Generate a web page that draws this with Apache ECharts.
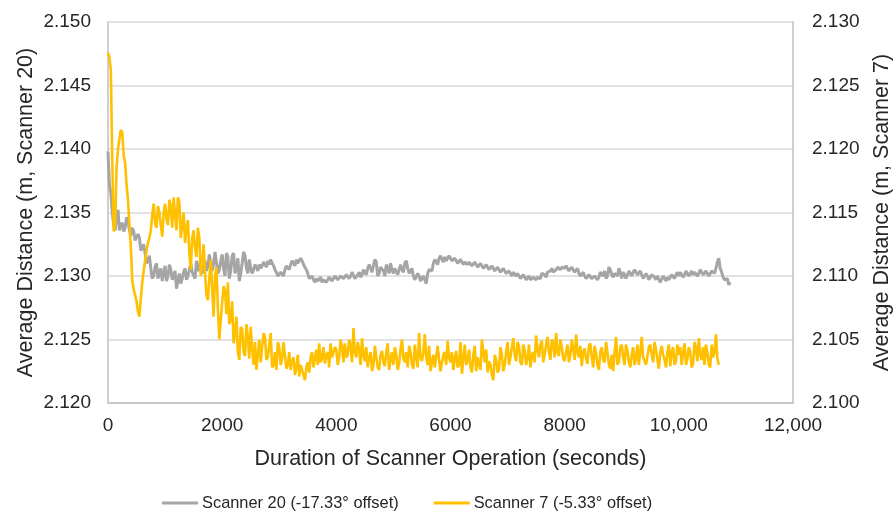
<!DOCTYPE html>
<html>
<head>
<meta charset="utf-8">
<script src="https://cdn.jsdelivr.net/npm/echarts@6/dist/echarts.min.js"></script>
<style>
html,body{margin:0;padding:0;background:#fff;overflow:hidden;}
#chart{width:893px;height:524px;}
</style>
</head>
<body>
<div id="chart"></div>
<script>
// Sampling grid of the readings (seconds): main readings at 0, 50, 100 ...,
// intermediate readings at 25, 75, 125 ...
const sampleStart = 0;
const sampleStep = 50;
const midOffset = 25;

// Scanner 20 (left axis), readings at 0, 50, ... 10,900 s
const scanner20 = [
  2.1398, 2.1365, 2.1340, 2.1348, 2.1336, 2.1342, 2.1338, 2.1344, 2.1332, 2.1335,
  2.1327, 2.1330, 2.1322, 2.1318, 2.1312, 2.1306, 2.1300, 2.1310, 2.1302, 2.1296,
  2.1308, 2.1300, 2.1305, 2.1298, 2.1290, 2.1302, 2.1298, 2.1306, 2.1300, 2.1310,
  2.1304, 2.1312, 2.1306, 2.1302, 2.1312, 2.1308, 2.1316, 2.1310, 2.1318, 2.1305,
  2.1317, 2.1300, 2.1315, 2.1304, 2.1318, 2.1306, 2.1296, 2.1310, 2.1316, 2.1302,
  2.1306, 2.1305, 2.1307, 2.1309, 2.1308, 2.1310, 2.1312, 2.1313, 2.1308, 2.1303,
  2.1299, 2.1302, 2.1305, 2.1307, 2.1309, 2.1311, 2.1313, 2.1311, 2.1312, 2.1308,
  2.1302, 2.1299, 2.1297, 2.1298, 2.1296, 2.1295, 2.1298, 2.1296, 2.1299, 2.1297,
  2.1300, 2.1298, 2.1301, 2.1299, 2.1302, 2.1300, 2.1302, 2.1299, 2.1303, 2.1301,
  2.1304, 2.1306, 2.1310, 2.1304, 2.1311, 2.1302, 2.1308, 2.1300, 2.1306, 2.1310,
  2.1302, 2.1307, 2.1300, 2.1305, 2.1310, 2.1306, 2.1303, 2.1300, 2.1298, 2.1300,
  2.1295, 2.1297, 2.1302, 2.1306, 2.1310, 2.1312, 2.1314, 2.1313, 2.1315, 2.1312,
  2.1314, 2.1311, 2.1313, 2.1310, 2.1312, 2.1311, 2.1309, 2.1310, 2.1308, 2.1310,
  2.1307, 2.1309, 2.1307, 2.1308, 2.1306, 2.1307, 2.1305, 2.1306, 2.1304, 2.1305,
  2.1303, 2.1302, 2.1303, 2.1300, 2.1301, 2.1299, 2.1300, 2.1298, 2.1297, 2.1299,
  2.1297, 2.1300, 2.1302, 2.1301, 2.1303, 2.1304, 2.1303, 2.1305, 2.1306, 2.1307,
  2.1306, 2.1307, 2.1305, 2.1306, 2.1304, 2.1302, 2.1301, 2.1300, 2.1299, 2.1300,
  2.1298, 2.1301, 2.1299, 2.1302, 2.1304, 2.1300, 2.1305, 2.1299, 2.1303, 2.1306,
  2.1298, 2.1301, 2.1299, 2.1302, 2.1303, 2.1304, 2.1302, 2.1301, 2.1299, 2.1300,
  2.1298, 2.1300, 2.1297, 2.1299, 2.1296, 2.1298, 2.1299, 2.1297, 2.1300, 2.1301,
  2.1300, 2.1302, 2.1301, 2.1303, 2.1302, 2.1301, 2.1303, 2.1302, 2.1304, 2.1302,
  2.1303, 2.1301, 2.1303, 2.1306, 2.1314, 2.1303, 2.1297, 2.1298, 2.1295
];

// Scanner 20 (left axis), readings at 25, 75, ... 10,875 s
const scanner20Mid = [
  2.1372, 2.1350, 2.1336, 2.1352, 2.1340, 2.1335, 2.1346, 2.1336, 2.1338, 2.1328,
  2.1333, 2.1320, 2.1325, 2.1310, 2.1316, 2.1298, 2.1307, 2.1298, 2.1306, 2.1302,
  2.1296, 2.1309, 2.1297, 2.1304, 2.1296, 2.1294, 2.1303, 2.1297, 2.1305, 2.1303,
  2.1298, 2.1304, 2.1314, 2.1306, 2.1304, 2.1317, 2.1304, 2.1319, 2.1302, 2.1312,
  2.1306, 2.1318, 2.1298, 2.1316, 2.1302, 2.1314, 2.1302, 2.1319, 2.1306, 2.1313,
  2.1302, 2.1309, 2.1304, 2.1306, 2.1311, 2.1307, 2.1309, 2.1310, 2.1305, 2.1300,
  2.1303, 2.1300, 2.1308, 2.1305, 2.1312, 2.1308, 2.1310, 2.1314, 2.1309, 2.1305,
  2.1298, 2.1300, 2.1295, 2.1296, 2.1299, 2.1297, 2.1295, 2.1299, 2.1296, 2.1300,
  2.1297, 2.1300, 2.1298, 2.1301, 2.1298, 2.1303, 2.1298, 2.1301, 2.1299, 2.1305,
  2.1301, 2.1309, 2.1303, 2.1313, 2.1300, 2.1307, 2.1304, 2.1309, 2.1302, 2.1305,
  2.1306, 2.1301, 2.1309, 2.1303, 2.1312, 2.1302, 2.1306, 2.1297, 2.1302, 2.1296,
  2.1300, 2.1294, 2.1305, 2.1304, 2.1313, 2.1309, 2.1316, 2.1311, 2.1312, 2.1316,
  2.1312, 2.1314, 2.1310, 2.1313, 2.1309, 2.1312, 2.1311, 2.1308, 2.1311, 2.1307,
  2.1310, 2.1306, 2.1309, 2.1305, 2.1308, 2.1304, 2.1307, 2.1303, 2.1306, 2.1302,
  2.1304, 2.1300, 2.1302, 2.1302, 2.1298, 2.1301, 2.1297, 2.1300, 2.1296, 2.1298,
  2.1299, 2.1298, 2.1303, 2.1299, 2.1302, 2.1306, 2.1302, 2.1307, 2.1305, 2.1308,
  2.1308, 2.1304, 2.1307, 2.1303, 2.1306, 2.1300, 2.1303, 2.1298, 2.1301, 2.1298,
  2.1300, 2.1297, 2.1303, 2.1300, 2.1298, 2.1307, 2.1301, 2.1302, 2.1300, 2.1303,
  2.1303, 2.1298, 2.1304, 2.1300, 2.1305, 2.1301, 2.1304, 2.1298, 2.1302, 2.1297,
  2.1301, 2.1299, 2.1300, 2.1295, 2.1300, 2.1296, 2.1297, 2.1301, 2.1298, 2.1303,
  2.1303, 2.1299, 2.1304, 2.1300, 2.1304, 2.1303, 2.1300, 2.1305, 2.1301, 2.1304,
  2.1300, 2.1304, 2.1302, 2.1311, 2.1306, 2.1299, 2.1296, 2.1293
];

// Scanner 7 (right axis), readings at 0, 50, ... 10,700 s
const scanner7 = [
  2.1276, 2.1262, 2.1135, 2.1185, 2.1208, 2.1213, 2.1189, 2.1160, 2.1123, 2.1089,
  2.1080, 2.1068, 2.1095, 2.1112, 2.1126, 2.1136, 2.1157, 2.1138, 2.1150, 2.1131,
  2.1157, 2.1140, 2.1155, 2.1162, 2.1136, 2.1158, 2.1140, 2.1126, 2.1144, 2.1105,
  2.1136, 2.1115, 2.1130, 2.1110, 2.1102, 2.1081, 2.1113, 2.1068, 2.1107, 2.1050,
  2.1079, 2.1088, 2.1095, 2.1066, 2.1047, 2.1068, 2.1034, 2.1058, 2.1037, 2.1052,
  2.1060, 2.1030, 2.1026, 2.1050, 2.1044, 2.1052, 2.1036, 2.1055, 2.1030, 2.1026,
  2.1044, 2.1035, 2.1047, 2.1030, 2.1026, 2.1036, 2.1028, 2.1021, 2.1030, 2.1018,
  2.1032, 2.1036, 2.1028, 2.1042, 2.1047, 2.1035, 2.1031, 2.1040, 2.1047, 2.1035,
  2.1042, 2.1036, 2.1044, 2.1047, 2.1038, 2.1045, 2.1059, 2.1036, 2.1042, 2.1051,
  2.1033, 2.1028, 2.1040, 2.1030, 2.1036, 2.1026, 2.1041, 2.1029, 2.1047, 2.1034,
  2.1030, 2.1038, 2.1031, 2.1050, 2.1032, 2.1028, 2.1040, 2.1027, 2.1036, 2.1055,
  2.1033, 2.1054, 2.1030, 2.1025, 2.1038, 2.1027, 2.1034, 2.1024, 2.1040, 2.1049,
  2.1032, 2.1026, 2.1041, 2.1030, 2.1023, 2.1046, 2.1033, 2.1028, 2.1038, 2.1025,
  2.1035, 2.1050, 2.1032, 2.1024, 2.1030, 2.1018, 2.1034, 2.1027, 2.1038, 2.1030,
  2.1048, 2.1036, 2.1051, 2.1033, 2.1045, 2.1030, 2.1041, 2.1035, 2.1028, 2.1040,
  2.1053, 2.1036, 2.1049, 2.1038, 2.1052, 2.1034, 2.1047, 2.1055, 2.1037, 2.1044,
  2.1033, 2.1046, 2.1038, 2.1042, 2.1054, 2.1036, 2.1029, 2.1043, 2.1031, 2.1047,
  2.1028, 2.1039, 2.1026, 2.1044, 2.1032, 2.1040, 2.1027, 2.1025, 2.1052, 2.1033,
  2.1046, 2.1030, 2.1041, 2.1028, 2.1044, 2.1035, 2.1030, 2.1052, 2.1037, 2.1029,
  2.1046, 2.1032, 2.1042, 2.1027, 2.1045, 2.1034, 2.1040, 2.1029, 2.1044, 2.1033,
  2.1038, 2.1030, 2.1047, 2.1035, 2.1040, 2.1031, 2.1043, 2.1051, 2.1034, 2.1030,
  2.1040, 2.1028, 2.1036, 2.1054, 2.1030
];

// Scanner 7 (right axis), readings at 25, 75, ... 10,675 s
const scanner7Mid = [
  2.1272, 2.1190, 2.1140, 2.1200, 2.1215, 2.1195, 2.1172, 2.1140, 2.1097, 2.1085,
  2.1072, 2.1082, 2.1104, 2.1120, 2.1130, 2.1148, 2.1142, 2.1155, 2.1140, 2.1150,
  2.1145, 2.1160, 2.1138, 2.1148, 2.1162, 2.1130, 2.1150, 2.1138, 2.1118, 2.1130,
  2.1122, 2.1138, 2.1100, 2.1125, 2.1085, 2.1098, 2.1090, 2.1100, 2.1075, 2.1065,
  2.1092, 2.1070, 2.1062, 2.1080, 2.1055, 2.1040, 2.1060, 2.1040, 2.1062, 2.1035,
  2.1042, 2.1048, 2.1038, 2.1032, 2.1055, 2.1034, 2.1046, 2.1028, 2.1040, 2.1048,
  2.1030, 2.1048, 2.1027, 2.1040, 2.1033, 2.1022, 2.1038, 2.1030, 2.1022, 2.1028,
  2.1024, 2.1040, 2.1035, 2.1030, 2.1032, 2.1044, 2.1038, 2.1028, 2.1036, 2.1044,
  2.1030, 2.1050, 2.1032, 2.1036, 2.1050, 2.1032, 2.1040, 2.1048, 2.1030, 2.1038,
  2.1044, 2.1036, 2.1025, 2.1045, 2.1028, 2.1038, 2.1032, 2.1040, 2.1026, 2.1040,
  2.1044, 2.1026, 2.1042, 2.1035, 2.1040, 2.1045, 2.1030, 2.1046, 2.1028, 2.1036,
  2.1040, 2.1036, 2.1045, 2.1032, 2.1028, 2.1045, 2.1025, 2.1038, 2.1030, 2.1036,
  2.1040, 2.1035, 2.1028, 2.1048, 2.1035, 2.1030, 2.1042, 2.1024, 2.1045, 2.1036,
  2.1026, 2.1040, 2.1042, 2.1033, 2.1022, 2.1038, 2.1024, 2.1044, 2.1025, 2.1040,
  2.1030, 2.1044, 2.1038, 2.1048, 2.1032, 2.1046, 2.1030, 2.1046, 2.1038, 2.1032,
  2.1042, 2.1046, 2.1032, 2.1046, 2.1040, 2.1050, 2.1036, 2.1040, 2.1050, 2.1035,
  2.1040, 2.1032, 2.1050, 2.1034, 2.1040, 2.1045, 2.1040, 2.1035, 2.1045, 2.1036,
  2.1045, 2.1030, 2.1040, 2.1034, 2.1048, 2.1030, 2.1038, 2.1040, 2.1030, 2.1044,
  2.1036, 2.1046, 2.1032, 2.1038, 2.1030, 2.1046, 2.1040, 2.1036, 2.1030, 2.1044,
  2.1038, 2.1048, 2.1034, 2.1040, 2.1038, 2.1028, 2.1046, 2.1040, 2.1030, 2.1046,
  2.1044, 2.1040, 2.1030, 2.1044, 2.1028, 2.1048, 2.1033, 2.1038, 2.1044, 2.1046,
  2.1030, 2.1046, 2.1040, 2.1035
];

const seriesNames = ['Scanner 20 (-17.33\u00b0 offset)', 'Scanner 7 (-5.33\u00b0 offset)'];
const xTitle = 'Duration of Scanner Operation (seconds)';
const leftTitle = 'Average Distance (m, Scanner 20)';
const rightTitle = 'Average Distance (m, Scanner 7)';

// Merge the two reading sets into [time, value] pairs in time order
function toPairs(main, mid) {
  const out = [];
  for (let i = 0; i < main.length; i++) {
    out.push([sampleStart + i * sampleStep, main[i]]);
    if (i < mid.length) out.push([sampleStart + midOffset + i * sampleStep, mid[i]]);
  }
  return out;
}

const FONT = '"Liberation Sans", Arial, sans-serif';
const TXT = '#262626';

const chart = echarts.init(document.getElementById('chart'), null, {renderer: 'canvas'});
chart.setOption({
  animation: false,
  backgroundColor: '#ffffff',
  textStyle: {fontFamily: FONT, color: TXT},
  grid: {left: 108, right: 100, top: 22, bottom: 121, containLabel: false, outerBoundsMode: 'none'},
  legend: {
    left: 157,
    top: 490,
    itemWidth: 36,
    itemHeight: 3,
    itemGap: 35,
    icon: 'rect',
    textStyle: {fontFamily: FONT, fontSize: 16.4, color: TXT, padding: [0, 0, 0, -1]},
    data: seriesNames
  },
  xAxis: {
    type: 'value',
    min: 0,
    max: 12000,
    interval: 2000,
    name: xTitle,
    nameLocation: 'middle',
    nameGap: 45,
    nameTextStyle: {fontFamily: FONT, fontSize: 21.5, color: TXT, verticalAlign: 'top'},
    axisLine: {show: true, lineStyle: {color: '#bfbfbf', width: 1.5}},
    axisTick: {show: false},
    splitLine: {show: false},
    axisLabel: {
      fontFamily: FONT, fontSize: 19, color: TXT, margin: 13,
      formatter: function (v) { return v >= 10000 ? v.toLocaleString('en-US') : String(v); }
    }
  },
  yAxis: [
    {
      type: 'value',
      position: 'left',
      min: 2.120,
      max: 2.150,
      interval: 0.005,
      name: leftTitle,
      nameLocation: 'middle',
      nameRotate: 90,
      nameGap: 82,
      nameMoveOverlap: false,
      nameTextStyle: {fontFamily: FONT, fontSize: 21.5, color: TXT, verticalAlign: 'middle'},
      axisLine: {show: true, lineStyle: {color: '#bfbfbf', width: 1.5}},
      axisTick: {show: false},
      splitLine: {show: true, lineStyle: {color: '#d9d9d9', width: 1.5}},
      axisLabel: {fontFamily: FONT, fontSize: 19, color: TXT, margin: 17,
        formatter: function (v) { return v.toFixed(3); }}
    },
    {
      type: 'value',
      position: 'right',
      min: 2.100,
      max: 2.130,
      interval: 0.005,
      name: rightTitle,
      nameLocation: 'middle',
      nameRotate: 90,
      nameGap: 78,
      nameTextStyle: {fontFamily: FONT, fontSize: 21.5, color: TXT, verticalAlign: 'top'},
      axisLine: {show: true, lineStyle: {color: '#bfbfbf', width: 1.5}},
      axisTick: {show: false},
      splitLine: {show: false},
      axisLabel: {fontFamily: FONT, fontSize: 19, color: TXT, margin: 19,
        formatter: function (v) { return v.toFixed(3); }}
    }
  ],
  series: [
    {
      name: seriesNames[0],
      type: 'line',
      yAxisIndex: 0,
      showSymbol: false,
      symbol: 'none',
      lineStyle: {color: '#a5a5a5', width: 3},
      itemStyle: {color: '#a5a5a5'},
      data: toPairs(scanner20, scanner20Mid)
    },
    {
      name: seriesNames[1],
      type: 'line',
      yAxisIndex: 1,
      showSymbol: false,
      symbol: 'none',
      lineStyle: {color: '#ffc000', width: 2.6},
      itemStyle: {color: '#ffc000'},
      data: toPairs(scanner7, scanner7Mid)
    }
  ]
});
</script>
</body>
</html>
